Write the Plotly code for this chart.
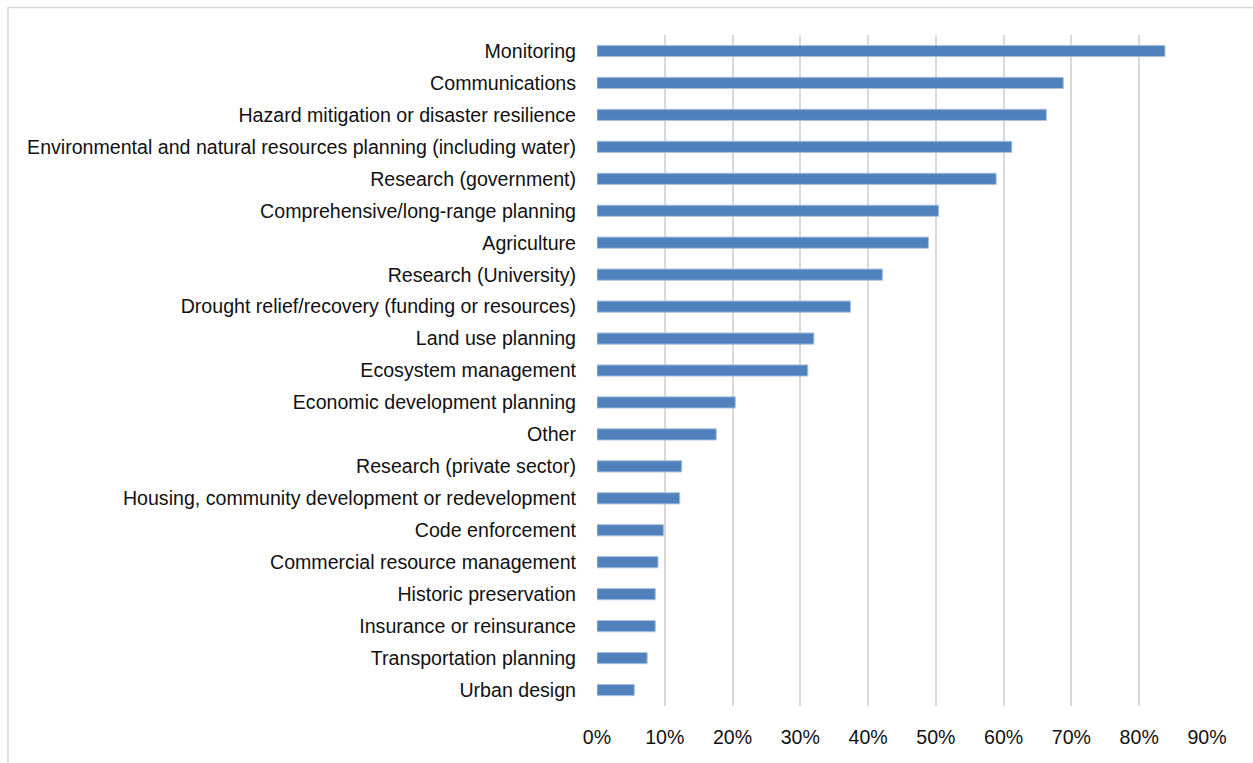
import plotly.graph_objects as go

# Share of respondents using drought information, by application area
categories = [
    "Monitoring",
    "Communications",
    "Hazard mitigation or disaster resilience",
    "Environmental and natural resources planning (including water)",
    "Research (government)",
    "Comprehensive/long-range planning",
    "Agriculture",
    "Research (University)",
    "Drought relief/recovery (funding or resources)",
    "Land use planning",
    "Ecosystem management",
    "Economic development planning",
    "Other",
    "Research (private sector)",
    "Housing, community development or redevelopment",
    "Code enforcement",
    "Commercial resource management",
    "Historic preservation",
    "Insurance or reinsurance",
    "Transportation planning",
    "Urban design",
]
shares = [
    0.838, 0.688, 0.663, 0.612, 0.589, 0.504, 0.489, 0.421, 0.374, 0.320,
    0.311, 0.204, 0.176, 0.125, 0.122, 0.098, 0.090, 0.086, 0.086, 0.074,
    0.055,
]
tick_values = [0, 0.1, 0.2, 0.3, 0.4, 0.5, 0.6, 0.7, 0.8, 0.9]
tick_labels = ["0%", "10%", "20%", "30%", "40%", "50%", "60%", "70%", "80%", "90%"]

W, H = 1253, 763
ML, MR, MT, MB = 596.5, 46, 35, 57
pw = W - ML - MR
ph = H - MT - MB

FONT = "Liberation Sans Narrow, Arial Narrow, Liberation Sans, Arial, sans-serif"

fig = go.Figure(
    go.Bar(
        x=shares,
        y=categories,
        orientation="h",
        marker=dict(color="#4f81bd", line=dict(color="#a9c1df", width=1)),
        width=0.35,
        hoverinfo="x+y",
    )
)

# outer chart frame (top and left edges sit inside the page)
fig.add_shape(
    type="rect",
    xref="paper", yref="paper",
    x0=(7 - ML) / pw, x1=(W + 10 - ML) / pw,
    y0=-(H + 10 - (H - MB)) / ph, y1=1 + (MT - 7.5) / ph,
    line=dict(color="#d9d9d9", width=1.5),
    fillcolor="rgba(0,0,0,0)",
    layer="below",
)

fig.update_layout(
    width=W,
    height=H,
    margin=dict(l=ML, r=MR, t=MT, b=MB, pad=0),
    paper_bgcolor="white",
    plot_bgcolor="white",
    showlegend=False,
    font=dict(family=FONT, size=19.6, color="#111111"),
    xaxis=dict(
        range=[0, 0.9],
        tickvals=tick_values,
        ticktext=tick_labels,
        showgrid=True,
        gridcolor="#d9d9d9",
        gridwidth=1.6,
        zeroline=False,
        showline=False,
        ticks="",
        ticklabelstandoff=17,
        fixedrange=True,
    ),
    yaxis=dict(
        autorange="reversed",
        showgrid=False,
        zeroline=False,
        showline=False,
        ticks="",
        ticklabelstandoff=20,
        fixedrange=True,
    ),
)

fig.write_html("out.html")
